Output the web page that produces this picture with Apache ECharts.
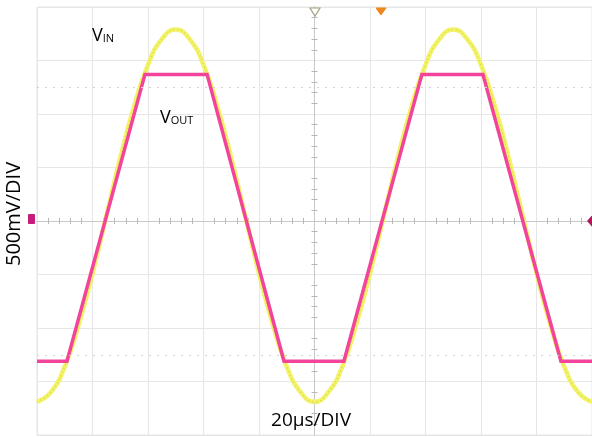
<!DOCTYPE html>
<html>
<head>
<meta charset="utf-8">
<script src="https://cdn.jsdelivr.net/npm/echarts@6/dist/echarts.min.js"></script>
<style>
html,body{margin:0;padding:0;background:#fff;}
#c{width:592px;height:437px;}
</style>
</head>
<body>
<div id="c"></div>
<script>
// Time axis in microseconds (centre of screen = 0), voltage in volts
var vinTime = [-100,-95,-90,-85,-80,-75,-70,-65,-60,-55,-50,-45,-40,-35,-30,-25,-20,-15,-10,-5,0,5,10,15,20,25,30,35,40,45,50,55,60,65,70,75,80,85,90,95,100];
var vinVolts = [-1.69,-1.60,-1.36,-0.97,-0.49,0.05,0.59,1.07,1.46,1.70,1.79,1.70,1.46,1.07,0.59,0.05,-0.49,-0.97,-1.36,-1.60,-1.69,-1.60,-1.36,-0.97,-0.49,0.05,0.59,1.07,1.46,1.70,1.79,1.70,1.46,1.07,0.59,0.05,-0.49,-0.97,-1.36,-1.60,-1.69];
var voutTime = [-100,-89.2,-61.1,-38.7,-11.0,10.6,38.7,60.7,88.8,100];
var voutVolts = [-1.31,-1.31,1.37,1.37,-1.31,-1.31,1.37,1.37,-1.31,-1.31];
var refLevels = [1.25,-1.25];
var xRange = [-100,100];   // 10 div x 20 us
var yRange = [-2,2];       // 8 div x 500 mV
var xDiv = 20, yDiv = 0.5;

function pairs(xs, ys){ var o=[]; for(var i=0;i<xs.length;i++) o.push([xs[i], ys[i]]); return o; }

var chart = echarts.init(document.getElementById('c'), null, {renderer:'canvas'});
var FONT = '"Open Sans", "Liberation Sans", sans-serif';
var gridCol = '#e6e6e6';
var tickCol = '#b8b8b8';

function xAx(pos, main){
  return {
    type:'value', min:xRange[0], max:xRange[1], interval:xDiv, position:pos,
    axisLine:{show:true, onZero:true, lineStyle:{color:'#c8c8c8', width:1}},
    axisTick:{show:false},
    minorTick:{show:true, splitNumber:5, length:3, lineStyle:{color:tickCol}},
    axisLabel:{show:false},
    splitLine:{show:main, lineStyle:{color:gridCol, width:1}},
    minorSplitLine:{show:false}
  };
}
function yAx(pos, main){
  return {
    type:'value', min:yRange[0], max:yRange[1], interval:yDiv, position:pos,
    axisLine:{show:true, onZero:true, lineStyle:{color:'#c8c8c8', width:1}},
    axisTick:{show:false},
    minorTick:{show:true, splitNumber:5, length:3, lineStyle:{color:tickCol}},
    axisLabel:{show:false},
    splitLine:{show:main, lineStyle:{color:gridCol, width:1}}
  };
}

var option = {
  animation:false,
  backgroundColor:'#ffffff',
  grid:{left:37, top:7, width:555, height:428, show:true, borderColor:gridCol, borderWidth:1},
  xAxis:[xAx('bottom', true), xAx('top', false)],
  yAxis:[yAx('left', true), yAx('right', false)],
  series:[
    {
      name:'ref', type:'line', data:[], xAxisIndex:0, yAxisIndex:0,
      markLine:{
        silent:true, symbol:['none','none'], label:{show:false},
        lineStyle:{type:[2,6], color:'#d2d2d2', width:1},
        data: refLevels.map(function(v){ return {yAxis:v}; })
      }
    },
    {
      name:'VIN', type:'line', data:pairs(vinTime, vinVolts), smooth:true, symbol:'none',
      lineStyle:{color:'#f2f266', width:4.5}, z:3
    },
    {
      name:'VIN texture', type:'line', data:pairs(vinTime, vinVolts), smooth:true, symbol:'none',
      lineStyle:{color:'#d6d648', width:1.2, type:[1,3]}, z:3
    },
    {
      name:'VOUT', type:'line', data:pairs(voutTime, voutVolts), smooth:false, symbol:'none',
      lineStyle:{color:'#f2449b', width:3.5, join:'miter'}, z:4
    }
  ],
  graphic:[
    {type:'text', left:92, top:27, z:10, style:{
      text:'{a|V}{b|IN}', fill:'#000',
      rich:{a:{fontSize:18, fontFamily:FONT, fill:'#000', verticalAlign:'bottom'},
            b:{fontSize:11, fontFamily:FONT, fill:'#000', verticalAlign:'bottom', padding:[0,0,1,0]}}
    }},
    {type:'text', left:160, top:109, z:10, style:{
      text:'{a|V}{b|OUT}', fill:'#000',
      rich:{a:{fontSize:18, fontFamily:FONT, fill:'#000', verticalAlign:'bottom'},
            b:{fontSize:11, fontFamily:FONT, fill:'#000', verticalAlign:'bottom', padding:[0,0,1,0]}}
    }},
    {type:'text', x:311, y:421, z:10, style:{
      text:'20µs/DIV', fontSize:19, fontFamily:FONT, fill:'#000', align:'center', verticalAlign:'middle'
    }},
    {type:'text', x:14, y:214, rotation:Math.PI/2, z:10, style:{
      text:'500mV/DIV', fontSize:20, fontFamily:FONT, fill:'#000', align:'center', verticalAlign:'middle'
    }},
    {type:'polygon', z:10, shape:{points:[[310,8],[320,8],[315,16]]}, style:{fill:'#ffffff', stroke:'#a3a37e', lineWidth:1.2}},
    {type:'polygon', z:10, shape:{points:[[376,8],[386,8],[381,15]]}, style:{fill:'#ef861e', stroke:'#ef861e', lineWidth:1}},
    {type:'rect', z:10, shape:{x:28, y:214, width:7, height:10, r:1}, style:{fill:'#c91b78'}},
    {type:'polygon', z:10, shape:{points:[[593,214],[599,221],[593,228],[587,221]]}, style:{fill:'#b0175f'}}
  ]
};
chart.setOption(option);
</script>
</body>
</html>
